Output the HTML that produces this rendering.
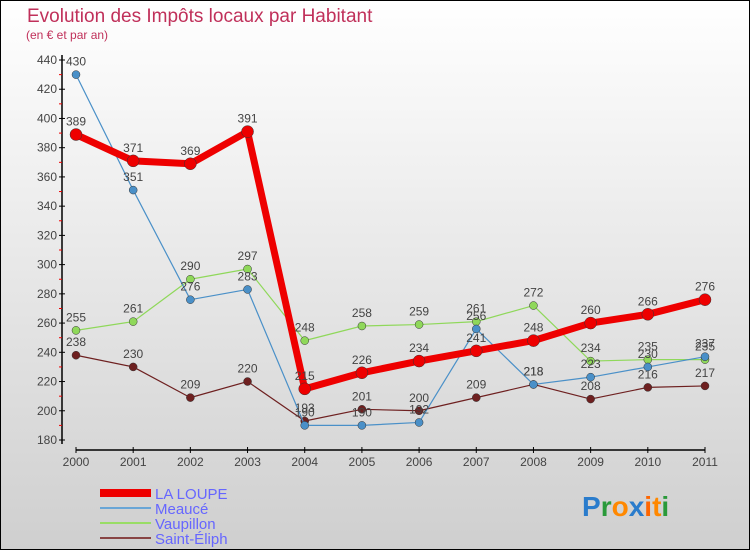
<!DOCTYPE html>
<html><head><meta charset="utf-8"><style>
body{margin:0;width:750px;height:550px;overflow:hidden;font-family:"Liberation Sans",sans-serif}
svg{display:block}
</style></head><body>
<svg id="chart" width="750" height="550" xmlns="http://www.w3.org/2000/svg">
<defs><linearGradient id="bg" x1="0" y1="0" x2="0" y2="1"><stop offset="0" stop-color="#ffffff"/><stop offset="1" stop-color="#cfcfcf"/></linearGradient></defs>
<rect x="0.5" y="0.5" width="749" height="549" fill="url(#bg)" stroke="#000"/>
<text x="27" y="22" font-size="19" fill="#c0305a">Evolution des Impôts locaux par Habitant</text>
<text x="26" y="39" font-size="12" fill="#c0305a">(en € et par an)</text>
<g id="axes"></g><g id="series"></g>
<g font-size="15" fill="#6666ff">
<rect x="100" y="489" width="51" height="8" fill="#ee0000"/>
<text x="155" y="499">LA LOUPE</text>
<rect x="100" y="507" width="51" height="2" fill="#6aa6d6"/>
<text x="155" y="514">Meaucé</text>
<rect x="100" y="522" width="51" height="2" fill="#99dd66"/>
<text x="155" y="529">Vaupillon</text>
<rect x="100" y="537" width="51" height="2" fill="#884444"/>
<text x="155" y="544">Saint-Éliph</text>
</g>
<text x="582" y="516" font-size="28" font-weight="bold"><tspan fill="#2a7ccc">P</tspan><tspan fill="#2a9a3a">r</tspan><tspan fill="#ff8800">o</tspan><tspan fill="#2a7ccc">x</tspan><tspan fill="#ff6600">i</tspan><tspan fill="#ff8800">t</tspan><tspan fill="#2a9a3a">i</tspan></text>
</svg>
<script>
const years=["2000","2001","2002","2003","2004","2005","2006","2007","2008","2009","2010","2011"];
const yTicks=[180,200,220,240,260,280,300,320,340,360,380,400,420,440];
const laLoupe=[389,371,369,391,215,226,234,241,248,260,266,276];
const meauce=[430,351,276,283,190,190,192,256,218,223,230,237];
const vaupillon=[255,261,290,297,248,258,259,261,272,234,235,235];
const saintEliph=[238,230,209,220,193,201,200,209,218,208,216,217];
const NS="http://www.w3.org/2000/svg";
const xs=i=>76+i*(705-76)/11;
const ys=v=>440-(v-180)*(380/260);
function mk(tag,attrs,parent){const e=document.createElementNS(NS,tag);for(const k in attrs)e.setAttribute(k,attrs[k]);parent.appendChild(e);return e;}
const ax=document.getElementById('axes');
let l=mk('line',{x1:62,y1:55,x2:62,y2:444,stroke:'#000','stroke-width':1.5},ax);


yTicks.forEach(v=>{
 const y=ys(v);
 let t=mk('line',{x1:59,y1:y,x2:65,y2:y,stroke:'#000'},ax);
 
 
 if(v<440){let m=mk('line',{x1:59,y1:y-14.6,x2:62,y2:y-14.6,stroke:'#e00'},ax);
 
 }
 let tx=mk('text',{x:57,y:y+4,'text-anchor':'end','font-size':12,fill:'#444'},ax);
 tx.textContent=v;
 
 
});
l=mk('line',{x1:76,y1:450,x2:705,y2:450,stroke:'#000','stroke-width':1.5},ax);


years.forEach((yr,i)=>{
 let t=mk('line',{x1:xs(i),y1:447,x2:xs(i),y2:453,stroke:'#000'},ax);
 
 
 let tx=mk('text',{x:xs(i),y:466,'text-anchor':'middle','font-size':12,fill:'#444'},ax);
 tx.textContent=yr;
 
 
});
const sg=document.getElementById('series');
function series(data,color,w,r,name){
 const g=mk('g',{},sg);
 
 
 let p=mk('polyline',{points:data.map((v,i)=>xs(i)+','+ys(v)).join(' '),fill:'none',stroke:color,'stroke-width':w,'stroke-linejoin':'round'},g);
 
 
 data.forEach((v,i)=>{
  let c=mk('circle',{cx:xs(i),cy:ys(v),r:r,fill:color,stroke:'#333','stroke-width':0.5},g);
  
  
  let t=mk('text',{x:xs(i),y:ys(v)-9,'text-anchor':'middle','font-size':12,fill:'#444'},g);
  t.textContent=v;
  
  
 });
}
series(saintEliph,'#6e2020',1.2,4,'saint-eliph');
series(vaupillon,'#8fd85a',1.2,4,'vaupillon');
series(meauce,'#4a90c8',1.2,4,'meauce');
series(laLoupe,'#ee0000',7,6,'la-loupe');
</script>
</body></html>
